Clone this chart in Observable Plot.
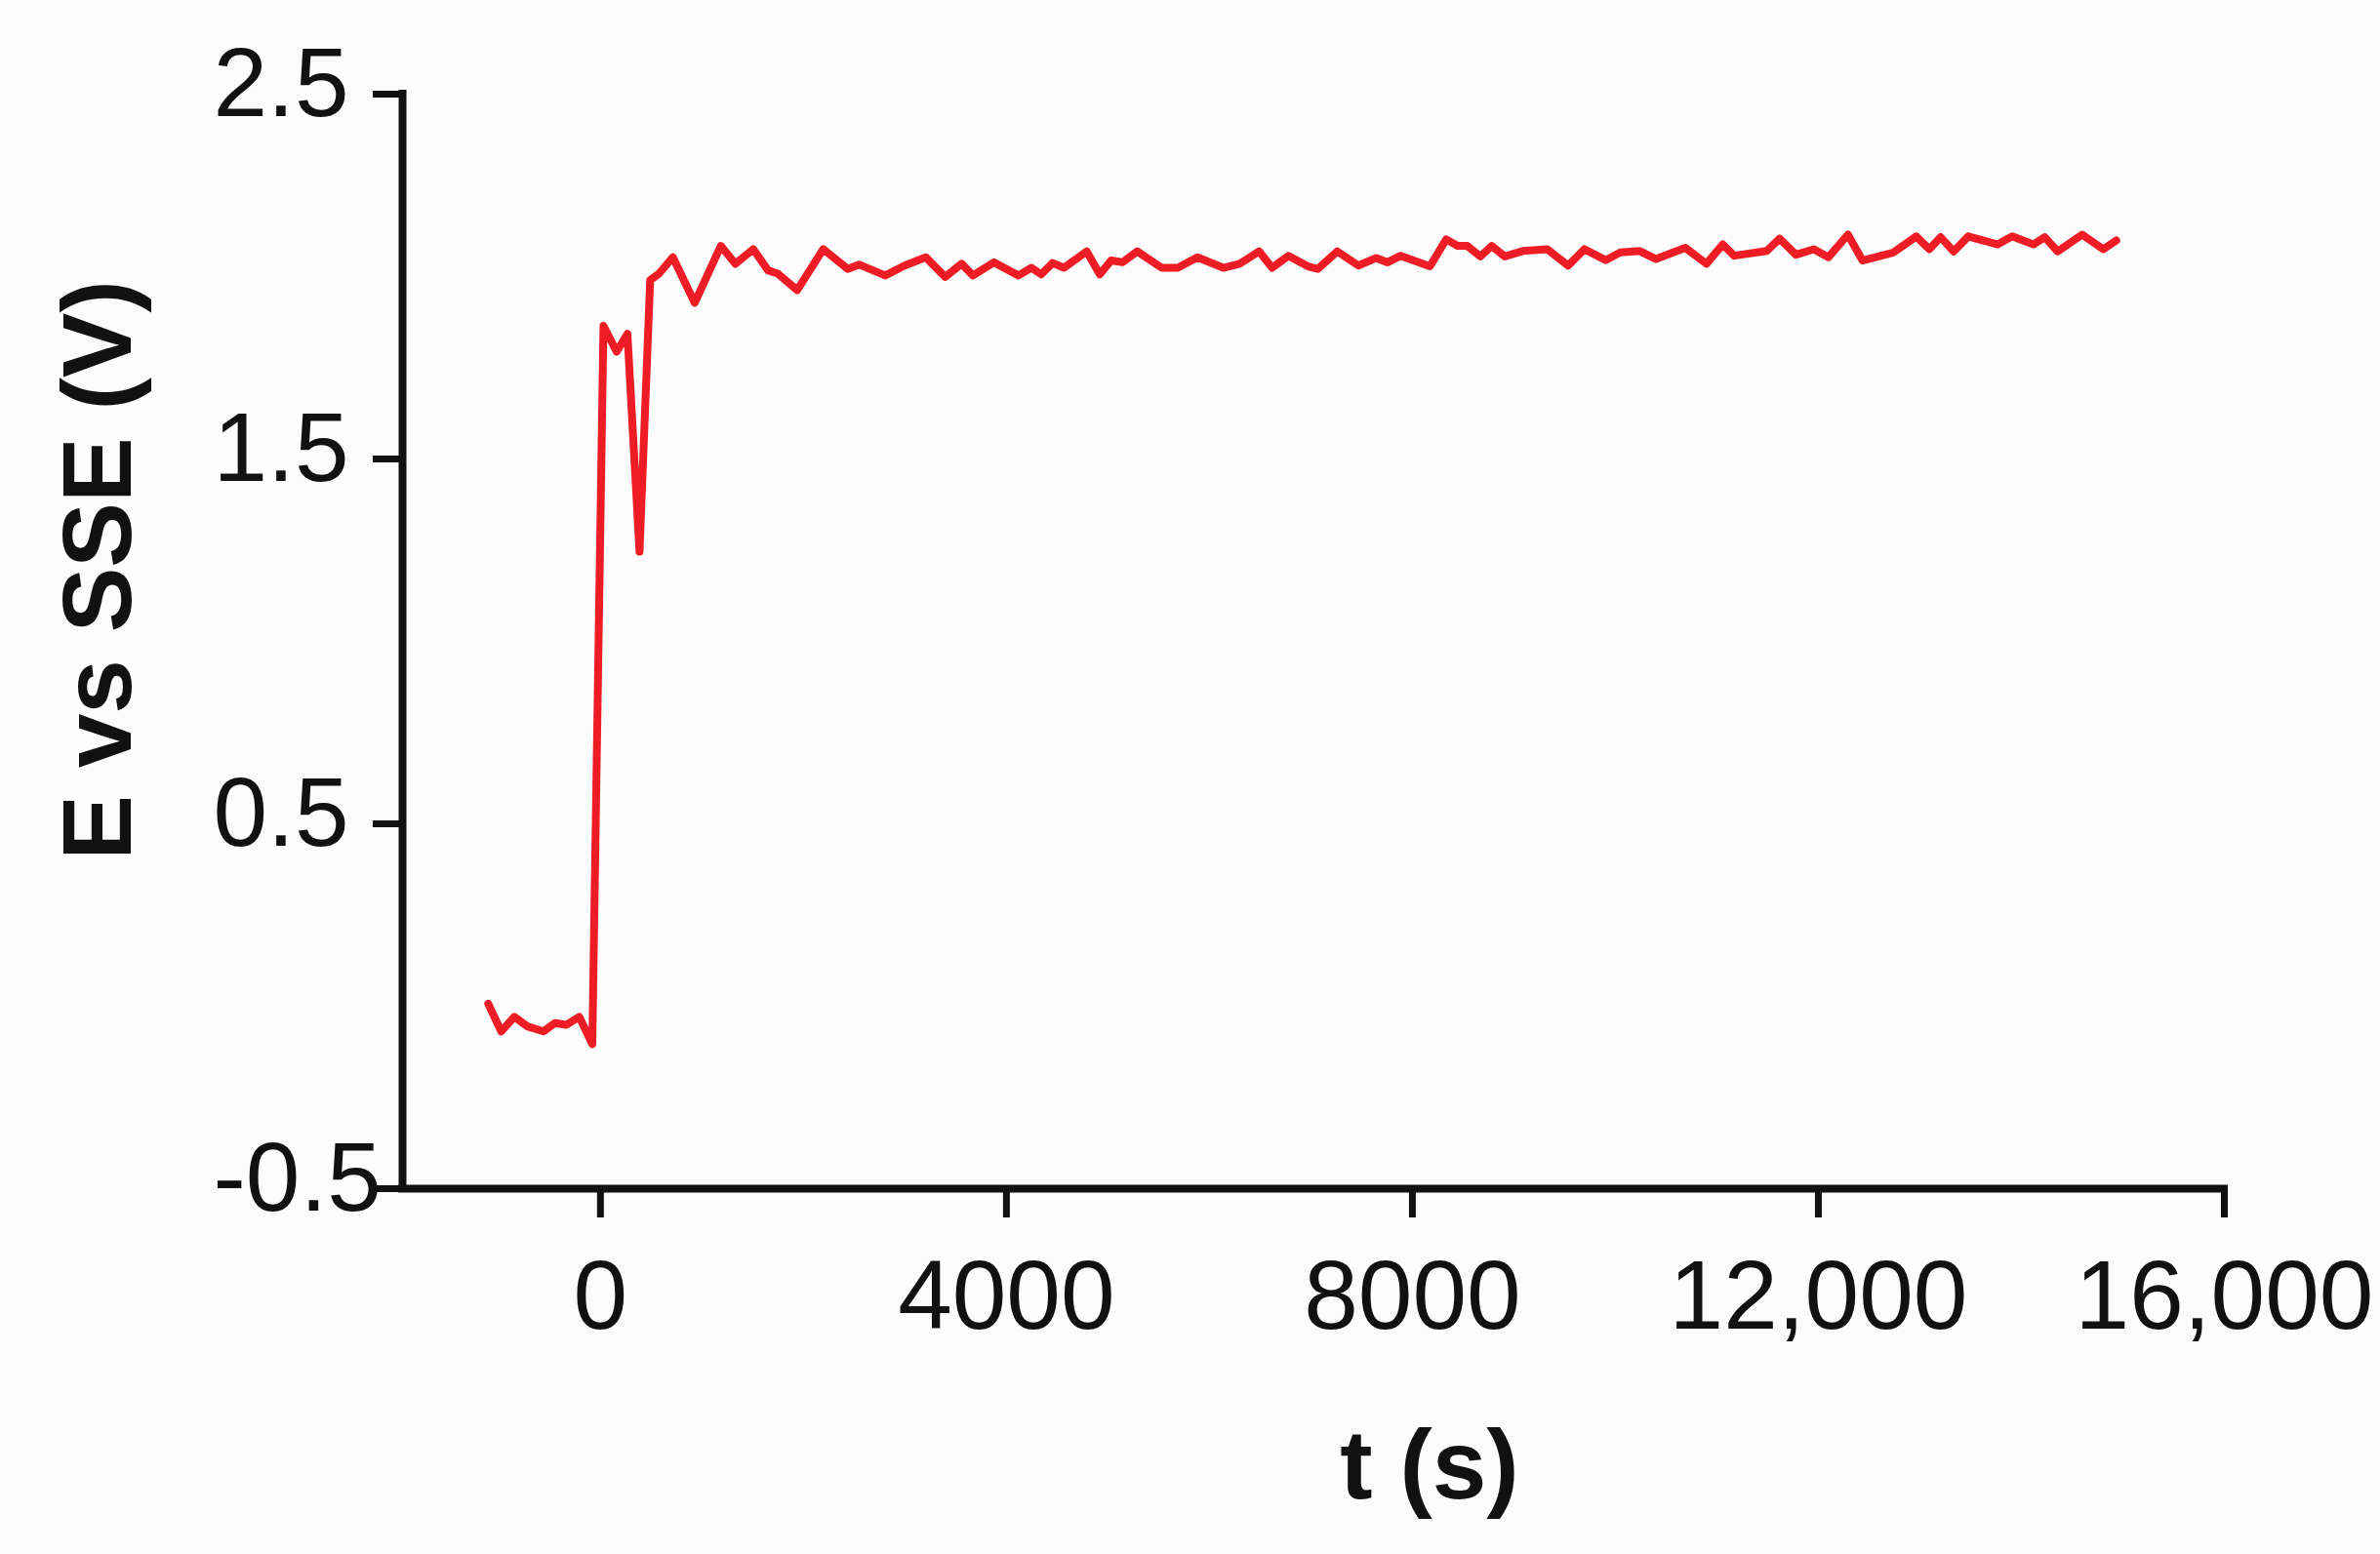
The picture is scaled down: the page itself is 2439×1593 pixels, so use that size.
<!DOCTYPE html>
<html>
<head>
<meta charset="utf-8">
<script src="https://cdn.jsdelivr.net/npm/d3@7"></script>
<script src="https://cdn.jsdelivr.net/npm/@observablehq/plot@0.6"></script>
<style>
  html, body { margin: 0; padding: 0; background: #fcfcfc; }
  #chart svg { display: block; }
</style>
</head>
<body>
<div id="chart"></div>
<script>
// time (s)
const timeSec = [-1106, -978, -849, -721, -561, -449, -337, -209, -80, 30, 160, 266, 385, 490, 577, 714, 929, 1186, 1330, 1506, 1651, 1747, 1939, 2195, 2436, 2548, 2805, 2997, 3205, 3397, 3558, 3670, 3878, 4118, 4247, 4343, 4455, 4567, 4791, 4920, 5032, 5144, 5288, 5529, 5689, 5882, 6138, 6298, 6490, 6618, 6779, 6971, 7067, 7260, 7468, 7644, 7756, 7884, 8173, 8333, 8445, 8541, 8670, 8782, 8910, 9086, 9327, 9535, 9695, 9904, 10048, 10240, 10400, 10689, 10897, 11058, 11170, 11490, 11618, 11779, 11955, 12099, 12291, 12435, 12740, 12964, 13093, 13204, 13333, 13477, 13766, 13910, 14118, 14230, 14358, 14599, 14807, 14935];
// potential E vs SSE (V)
const potentialV = [0.007, -0.069, -0.029, -0.055, -0.069, -0.046, -0.051, -0.029, -0.104, 1.865, 1.794, 1.843, 1.246, 1.990, 2.008, 2.053, 1.928, 2.084, 2.035, 2.075, 2.017, 2.008, 1.963, 2.075, 2.021, 2.033, 2.003, 2.030, 2.053, 1.999, 2.035, 2.003, 2.039, 2.003, 2.024, 2.006, 2.037, 2.024, 2.069, 2.006, 2.044, 2.039, 2.069, 2.024, 2.024, 2.053, 2.024, 2.035, 2.069, 2.024, 2.057, 2.028, 2.021, 2.069, 2.030, 2.051, 2.039, 2.057, 2.028, 2.102, 2.084, 2.084, 2.055, 2.084, 2.055, 2.070, 2.075, 2.030, 2.075, 2.045, 2.066, 2.070, 2.048, 2.079, 2.035, 2.088, 2.057, 2.070, 2.104, 2.060, 2.075, 2.053, 2.115, 2.044, 2.066, 2.110, 2.075, 2.108, 2.069, 2.110, 2.088, 2.110, 2.088, 2.108, 2.069, 2.115, 2.075, 2.099];

const xTicks = [0, 4000, 8000, 12000, 16000];
const xTickLabels = ["0", "4000", "8000", "12,000", "16,000"];
const yTicks = [2.5, 1.5, 0.5, -0.5];
const yTickLabels = ["2.5", "1.5", "0.5", "-0.5"];
const xDomain = [-1950, 16000];
const yDomain = [-0.5, 2.5];
const xTitle = "t (s)";
const yTitle = "E vs SSE (V)";

const data = timeSec.map((t, i) => ({t, E: potentialV[i]}));
const ink = "#111111";
const lineColor = "#ee1c25";

const chart = Plot.plot({
  width: 2439,
  height: 1593,
  marginLeft: 412,
  marginRight: 160,
  marginTop: 96,
  marginBottom: 375,
  style: {fontFamily: "'Liberation Sans', Arial, Helvetica, sans-serif", background: "#fcfcfc", color: ink, overflow: "visible"},
  x: {domain: xDomain},
  y: {domain: yDomain},
  marks: [
    // y tick marks (no text)
    Plot.axisY(yTicks, {
      tickSize: 30, strokeWidth: 7, stroke: ink,
      tickFormat: () => "", label: null
    }),
    // y tick labels (no tick marks)
    Plot.axisY(yTicks, {
      tickSize: 0, tickPadding: 194, textAnchor: "start",
      fontSize: 100, dy: -10, fill: ink,
      tickFormat: (d) => yTickLabels[yTicks.indexOf(d)], label: null
    }),
    Plot.axisX(xTicks, {
      tickSize: 30, tickPadding: 42,
      fontSize: 100, strokeWidth: 7, stroke: ink, fill: ink,
      tickFormat: (d) => xTickLabels[xTicks.indexOf(d)], label: null
    }),
    Plot.ruleX([xDomain[0]], {stroke: ink, strokeWidth: 8, y1: yDomain[0], y2: yDomain[1], strokeLinecap: "square"}),
    Plot.ruleY([yDomain[0]], {stroke: ink, strokeWidth: 8, x1: xDomain[0], x2: xDomain[1], strokeLinecap: "square"}),
    Plot.line(data, {x: "t", y: "E", stroke: lineColor, strokeWidth: 8, strokeLinejoin: "round", strokeLinecap: "round"}),
    Plot.text([yTitle], {
      frameAnchor: "left", rotate: -90, dx: -311, dy: -73,
      fontSize: 100, fontWeight: "bold", fill: ink, lineAnchor: "middle", textAnchor: "middle"
    }),
    Plot.text([xTitle], {
      frameAnchor: "bottom", dx: 119, dy: 285,
      fontSize: 100, fontWeight: "bold", fill: ink, lineAnchor: "middle", textAnchor: "middle"
    })
  ]
});
document.getElementById("chart").appendChild(chart);
</script>
</body>
</html>
